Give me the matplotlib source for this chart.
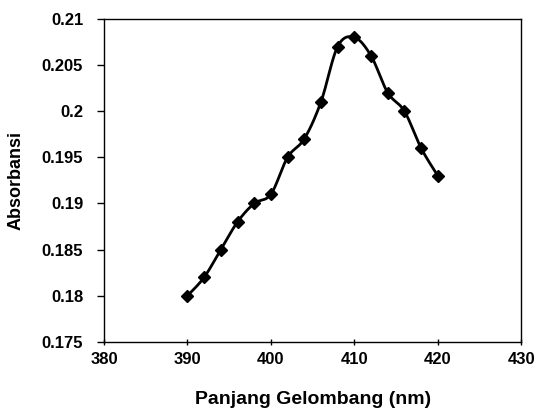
import numpy as np
import matplotlib
matplotlib.use("Agg")
import matplotlib.pyplot as plt

wavelength = [390, 392, 394, 396, 398, 400, 402, 404, 406, 408, 410, 412, 414, 416, 418, 420]
absorbance = [0.180, 0.182, 0.185, 0.188, 0.190, 0.191, 0.195, 0.197, 0.201, 0.207,
              0.208, 0.206, 0.202, 0.200, 0.196, 0.193]
xticks = [380, 390, 400, 410, 420, 430]
yticks = [0.175, 0.18, 0.185, 0.19, 0.195, 0.2, 0.205, 0.21]
ytick_labels = ["0.175", "0.18", "0.185", "0.19", "0.195", "0.2", "0.205", "0.21"]


def smooth_curve(x, y, n=20):
    # Excel-like smoothed line: cubic Bezier segments with Catmull-Rom control points
    x = np.asarray(x, float)
    y = np.asarray(y, float)
    px, py = [], []
    for i in range(len(x) - 1):
        x0, y0 = (x[i - 1], y[i - 1]) if i > 0 else (x[i], y[i])
        x3, y3 = (x[i + 2], y[i + 2]) if i + 2 < len(x) else (x[i + 1], y[i + 1])
        x1, y1 = x[i], y[i]
        x2, y2 = x[i + 1], y[i + 1]
        c1x, c1y = x1 + (x2 - x0) / 6, y1 + (y2 - y0) / 6
        c2x, c2y = x2 - (x3 - x1) / 6, y2 - (y3 - y1) / 6
        t = np.linspace(0, 1, n, endpoint=(i == len(x) - 2))
        b0, b1, b2, b3 = (1 - t) ** 3, 3 * t * (1 - t) ** 2, 3 * t ** 2 * (1 - t), t ** 3
        px.extend(b0 * x1 + b1 * c1x + b2 * c2x + b3 * x2)
        py.extend(b0 * y1 + b1 * c1y + b2 * c2y + b3 * y2)
    return np.array(px), np.array(py)


plt.rcParams['font.family'] = ['Liberation Sans', 'DejaVu Sans']

fig = plt.figure(figsize=(5.39, 4.19), dpi=100)
ax = fig.add_axes([0.193, 0.184, 0.774, 0.771])

sx, sy = smooth_curve(wavelength, absorbance)
ax.plot(sx, sy, color='black', lw=2.0, solid_capstyle='round')
ax.plot(wavelength, absorbance, linestyle='none', marker='D', markersize=6.5,
        color='black')

ax.set_xlim(380, 430)
ax.set_ylim(0.175, 0.21)
ax.set_xticks(xticks)
ax.set_xticklabels([str(v) for v in xticks], fontsize=12, fontweight='bold')
ax.set_yticks(yticks)
ax.set_yticklabels(ytick_labels, fontsize=12, fontweight='bold')
ax.tick_params(axis='x', direction='inout', length=5, width=1, pad=5)
ax.tick_params(axis='y', direction='out', length=5, width=1, pad=10)
for s in ax.spines.values():
    s.set_linewidth(1)
    s.set_color('black')

ax.set_xlabel('Panjang Gelombang (nm)', fontsize=14, fontweight='bold', labelpad=17)
ax.set_ylabel('Absorbansi', fontsize=13, fontweight='bold')
ax.yaxis.set_label_coords(-0.19, 0.5)

fig.savefig('out.png', dpi=100)
